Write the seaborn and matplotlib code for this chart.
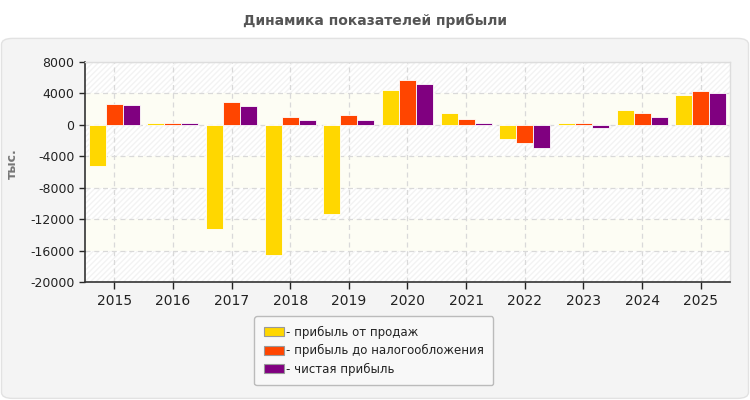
import matplotlib
matplotlib.use('Agg')
import matplotlib.pyplot as plt
import pandas as pd
import seaborn as sns
from matplotlib.patches import FancyBboxPatch, Patch


YEARS = ['2015', '2016', '2017', '2018', '2019', '2020', '2021', '2022', '2023', '2024', '2025']
SALES_PROFIT = [-5200, 200, -13200, -16600, -11300, 4450, 1450, -1750, 200, 1900, 3850]
PRETAX_PROFIT = [2700, 200, 2850, 950, 1200, 5750, 750, -2250, 300, 1550, 4350]
NET_PROFIT = [2550, 200, 2450, 650, 650, 5150, 200, -3000, -450, 950, 4050]

SERIES = ['- прибыль от продаж', '- прибыль до налогообложения', '- чистая прибыль']
COLORS = ['#FFD700', '#FF4500', '#800080']
Y_TICKS = [8000, 4000, 0, -4000, -8000, -12000, -16000, -20000]


def build_frame():
    df = pd.DataFrame({'Год': YEARS,
                       SERIES[0]: SALES_PROFIT,
                       SERIES[1]: PRETAX_PROFIT,
                       SERIES[2]: NET_PROFIT})
    df = df.melt(id_vars='Год', var_name='Показатель', value_name='Значение')
    return df


def plot_chart(df):
    sns.set_style('white')
    plt.rcParams['font.family'] = ['DejaVu Sans']

    fig = plt.figure(figsize=(7.5, 4.0), dpi=100)
    fig.patch.set_facecolor('white')

    # rounded grey panel behind the chart
    panel = FancyBboxPatch((0.002, 0.004), 0.996, 0.9, transform=fig.transFigure,
                           boxstyle='round,pad=0,rounding_size=0.015',
                           facecolor='#f4f4f4', edgecolor='#e2e2e2', linewidth=1.0,
                           zorder=-5)
    fig.patches.append(panel)

    ax = fig.add_axes([0.1133, 0.295, 0.86, 0.55])
    ax.set_zorder(1)
    ax.set_facecolor('white')

    # alternating bands
    for i in range(len(Y_TICKS) - 1):
        lo, hi = Y_TICKS[i + 1], Y_TICKS[i]
        if i % 2 == 1:
            ax.axhspan(lo, hi, facecolor='#fdfdf4', edgecolor='none', zorder=0)
        else:
            ax.axhspan(lo, hi, facecolor='white', edgecolor='#f3f3f3',
                       hatch='//////', linewidth=0, zorder=0)

    sns.barplot(data=df, x='Год', y='Значение', hue='Показатель',
                palette=COLORS, saturation=1, width=0.87, legend=False, ax=ax,
                edgecolor='white', linewidth=0.6, zorder=3)

    ax.set_ylim(-20000, 8000)
    ax.set_xlim(-0.5, len(YEARS) - 0.5)
    ax.set_yticks(Y_TICKS)
    ax.set_yticklabels([str(v) for v in Y_TICKS], fontsize=9, color='#222222')
    ax.tick_params(axis='x', labelsize=10, colors='#222222', length=5, width=1,
                   direction='out', bottom=True)
    ax.tick_params(axis='y', length=4, width=1, left=True, direction='out')

    ax.grid(True, axis='both', linestyle=(0, (4, 3)), color='#d9d9d9', linewidth=0.9)
    ax.set_axisbelow(True)

    ax.set_xlabel('')
    ax.set_ylabel('тыс.', fontsize=9, fontweight='bold', color='#777777')
    ax.yaxis.set_label_coords(-0.103, 0.54)

    for side in ['top', 'right']:
        ax.spines[side].set_color('#dddddd')
        ax.spines[side].set_linewidth(1.0)
    for side in ['left', 'bottom']:
        ax.spines[side].set_color('#333333')
        ax.spines[side].set_linewidth(1.2)

    fig.text(0.5, 0.948, 'Динамика показателей прибыли', ha='center', va='center',
             fontsize=10, fontweight='bold', color='#555555')

    handles = [Patch(facecolor=c, edgecolor='#999999', linewidth=0.8) for c in COLORS]
    leg = fig.legend(handles=handles, labels=SERIES, loc='center',
                     bbox_to_anchor=(0.4985, 0.1235), fontsize=8.5,
                     frameon=True, fancybox=True, handlelength=1.7, handleheight=0.8,
                     handletextpad=0.2, labelspacing=0.45, borderpad=0.8)
    frame = leg.get_frame()
    frame.set_facecolor('#f8f8f8')
    frame.set_edgecolor('#bbbbbb')
    frame.set_alpha(1.0)
    for t in leg.get_texts():
        t.set_color('#222222')

    fig.savefig('out.png', dpi=100)
    plt.close(fig)


def main():
    df = build_frame()
    plot_chart(df)


if __name__ == '__main__':
    main()
